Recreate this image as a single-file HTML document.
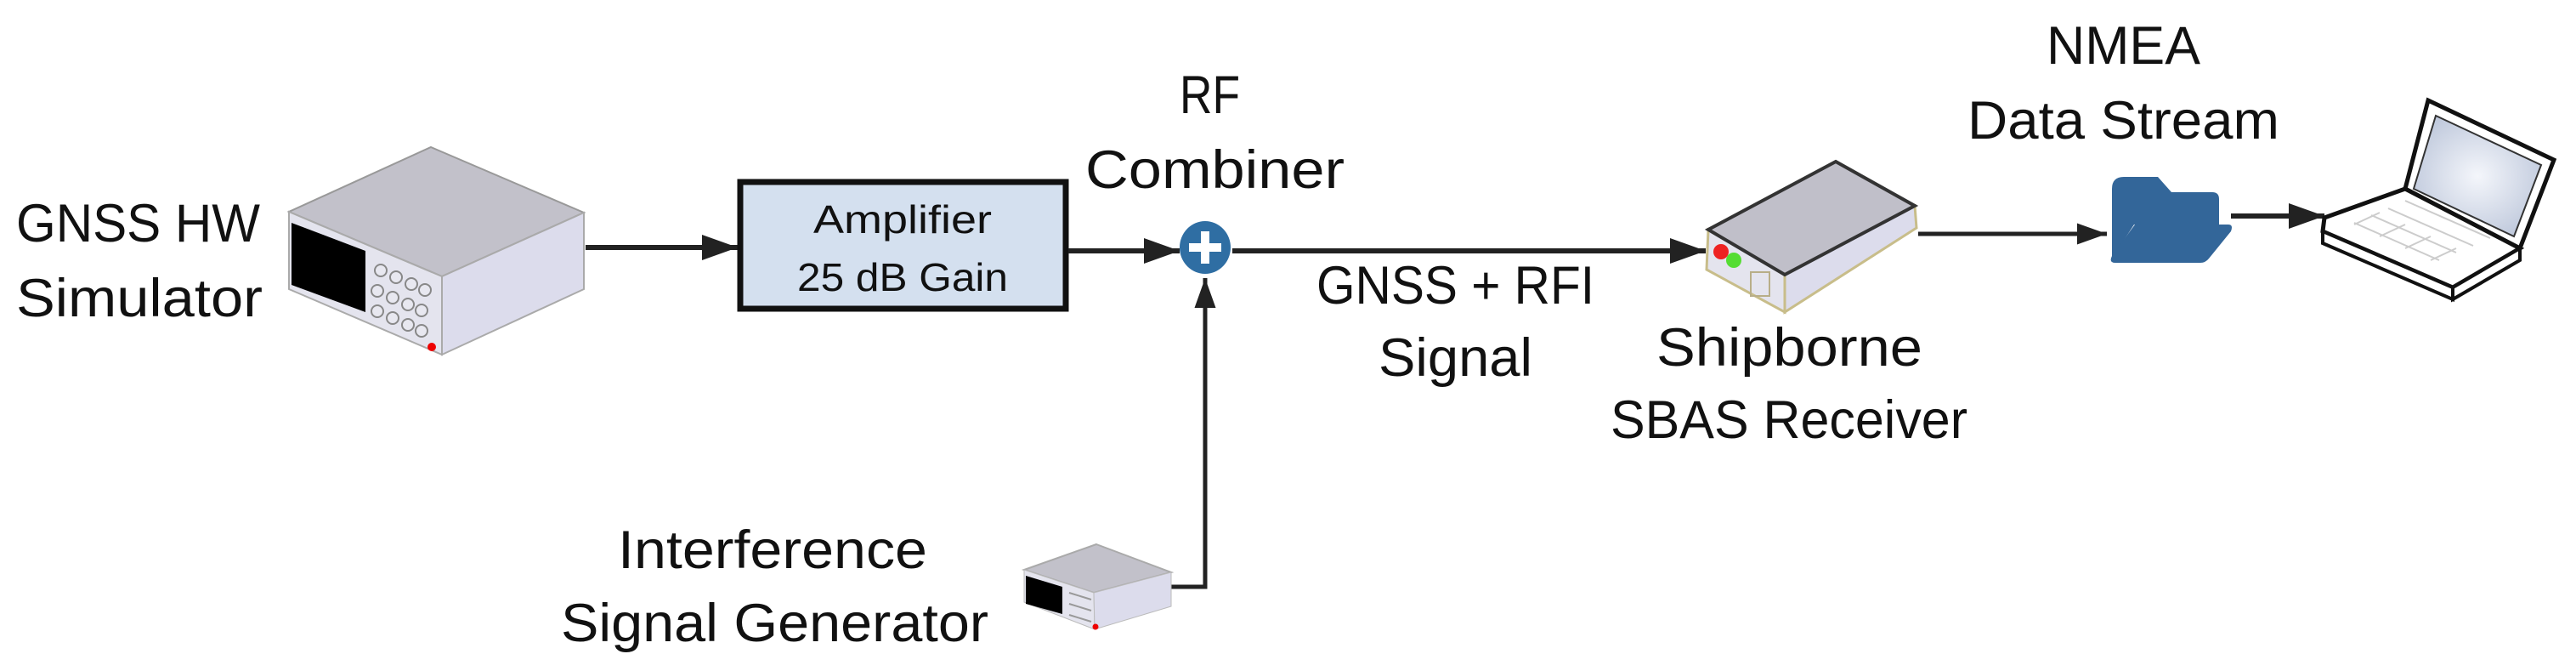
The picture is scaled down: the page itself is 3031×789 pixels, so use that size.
<!DOCTYPE html>
<html><head><meta charset="utf-8"><style>
html,body{margin:0;padding:0;background:#fff;}
svg{display:block}
text{font-family:"Liberation Sans",sans-serif;fill:#111;}
</style></head><body>
<svg width="3031" height="789" viewBox="0 0 3031 789" xmlns="http://www.w3.org/2000/svg">
<defs>
<marker id="ah" viewBox="0 0 14 10" refX="14" refY="5" markerWidth="7" markerHeight="5" orient="auto" markerUnits="strokeWidth">
<path d="M0,0 L14,5 L0,10 z" fill="#222"/></marker>
<radialGradient id="scr" cx="0.5" cy="0.5" r="0.6"><stop offset="0" stop-color="#f4f6fb"/><stop offset="1" stop-color="#bcc6da"/></radialGradient>
</defs>

<text x="19" y="284" font-size="63" textLength="287" lengthAdjust="spacingAndGlyphs">GNSS HW</text>
<text x="19" y="372" font-size="63" textLength="290" lengthAdjust="spacingAndGlyphs">Simulator</text>
<text x="1388" y="133" font-size="63" textLength="71" lengthAdjust="spacingAndGlyphs">RF</text>
<text x="1277" y="221" font-size="63" textLength="305" lengthAdjust="spacingAndGlyphs">Combiner</text>
<text x="727" y="668" font-size="63" textLength="364" lengthAdjust="spacingAndGlyphs">Interference</text>
<text x="660" y="754" font-size="63" textLength="503" lengthAdjust="spacingAndGlyphs">Signal Generator</text>
<text x="1549" y="357" font-size="63" textLength="327" lengthAdjust="spacingAndGlyphs">GNSS + RFI</text>
<text x="1622" y="442" font-size="63" textLength="181" lengthAdjust="spacingAndGlyphs">Signal</text>
<text x="1949" y="430" font-size="63" textLength="313" lengthAdjust="spacingAndGlyphs">Shipborne</text>
<text x="1895" y="515" font-size="63" textLength="420" lengthAdjust="spacingAndGlyphs">SBAS Receiver</text>
<text x="2408" y="75" font-size="63" textLength="181" lengthAdjust="spacingAndGlyphs">NMEA</text>
<text x="2315" y="163" font-size="63" textLength="367" lengthAdjust="spacingAndGlyphs">Data Stream</text>

<polygon points="507,173 687,250 520,325 340,249" fill="#c2c1ca" stroke="#999" stroke-width="2"/>
<polygon points="340,249 520,325 520,417 340,340" fill="#e4e4ee" stroke="#aaa" stroke-width="2"/>
<polygon points="520,325 687,250 687,340 520,417" fill="#dcdcec" stroke="#aaa" stroke-width="2"/>
<polygon points="343,262 430,295 430,367 343,335" fill="#000"/>
<g fill="#e8e8f0" stroke="#888" stroke-width="2">
<circle cx="448" cy="318" r="7"/><circle cx="466" cy="326" r="7"/><circle cx="484" cy="334" r="7"/><circle cx="500" cy="341" r="7"/>
<circle cx="444" cy="342" r="7"/><circle cx="462" cy="350" r="7"/><circle cx="480" cy="358" r="7"/><circle cx="496" cy="365" r="7"/>
<circle cx="444" cy="366" r="7"/><circle cx="462" cy="374" r="7"/><circle cx="480" cy="382" r="7"/><circle cx="496" cy="389" r="7"/>
</g>
<circle cx="508" cy="408" r="5" fill="#e00"/>

<line x1="689" y1="291" x2="868" y2="291" stroke="#222" stroke-width="6" marker-end="url(#ah)"/>
<rect x="871" y="214" width="383" height="149" fill="#d4e0ef" stroke="#111" stroke-width="7"/>
<text x="1062" y="274" font-size="46" text-anchor="middle" textLength="210" lengthAdjust="spacingAndGlyphs">Amplifier</text>
<text x="1062" y="342" font-size="46" text-anchor="middle" textLength="248" lengthAdjust="spacingAndGlyphs">25 dB Gain</text>
<line x1="1257" y1="295" x2="1388" y2="295" stroke="#222" stroke-width="6" marker-end="url(#ah)"/>
<line x1="1450" y1="295" x2="2007" y2="295" stroke="#222" stroke-width="6" marker-end="url(#ah)"/>
<polyline points="1378,690 1418,690 1418,327" fill="none" stroke="#222" stroke-width="5" marker-end="url(#ah)"/>
<ellipse cx="1418" cy="291" rx="30" ry="31" fill="#2f6ea3"/>
<rect x="1413" y="272" width="10" height="38" fill="#fff"/>
<rect x="1399" y="286" width="38" height="10" fill="#fff"/>

<polygon points="1290,640 1378,673 1287,697 1205,670" fill="#c2c1ca" stroke="#aaa" stroke-width="2"/>
<polygon points="1205,670 1287,697 1288,740 1205,708" fill="#e4e4ee" stroke="#bbb"/>
<polygon points="1287,697 1378,673 1378,713 1288,740" fill="#dcdcec" stroke="#bbb"/>
<polygon points="1207,677 1250,690 1250,722 1207,710" fill="#000"/>
<g stroke="#999" stroke-width="2"><line x1="1258" y1="697" x2="1284" y2="705"/><line x1="1258" y1="710" x2="1284" y2="718"/><line x1="1258" y1="723" x2="1284" y2="731"/></g>
<circle cx="1289" cy="737" r="3.5" fill="#e00"/>

<polygon points="2010,270 2100,323 2100,367 2008,317" fill="#e4e4ee" stroke="#c8bd8a" stroke-width="3"/>
<polygon points="2100,323 2253,242 2255,268 2100,367" fill="#dcdcec" stroke="#c8bd8a" stroke-width="3"/>
<polygon points="2160,190 2253,242 2100,323 2010,270" fill="#c0bfc9" stroke="#333" stroke-width="4"/>
<circle cx="2025" cy="296" r="9" fill="#e22"/>
<circle cx="2040" cy="306" r="9" fill="#5d3"/>
<rect x="2060" y="320" width="22" height="28" fill="none" stroke="#b8ae88" stroke-width="2"/>

<line x1="2257" y1="275" x2="2479" y2="275" stroke="#222" stroke-width="5" marker-end="url(#ah)"/>
<path d="M2485,222 q0,-14 14,-14 h40 l16,18 h48 q8,0 8,8 v30 h-100 l-26,40 z" fill="#336699"/>
<path d="M2512,264 h110 q6,0 3,8 l-26,32 q-4,5 -10,5 h-100 q-8,0 -4,-8 z" fill="#336699"/>
<line x1="2625" y1="254" x2="2735" y2="254" stroke="#222" stroke-width="6" marker-end="url(#ah)"/>
<polygon points="2857,118 3005,188 2965,292 2830,222" fill="#fff" stroke="#111" stroke-width="5"/>
<polygon points="2866,136 2990,194 2958,278 2840,222" fill="url(#scr)" stroke="#333" stroke-width="2"/>
<polygon points="2735,256 2830,222 2965,292 2886,338 2733,272" fill="#fff" stroke="#111" stroke-width="5"/>
<polygon points="2733,272 2886,338 2886,352 2733,286" fill="#fff" stroke="#111" stroke-width="4"/>
<polygon points="2886,338 2965,292 2965,306 2886,352" fill="#fff" stroke="#111" stroke-width="4"/>
<g stroke="#ccc" stroke-width="2" fill="none">
<path d="M2770,262 l100,44 M2790,253 l100,44 M2810,245 l100,44 M2830,236 l100,44"/>
<path d="M2800,250 l-30,14 M2830,264 l-30,14 M2860,278 l-30,14 M2890,292 l-30,14"/>
</g>
</svg>
</body></html>
